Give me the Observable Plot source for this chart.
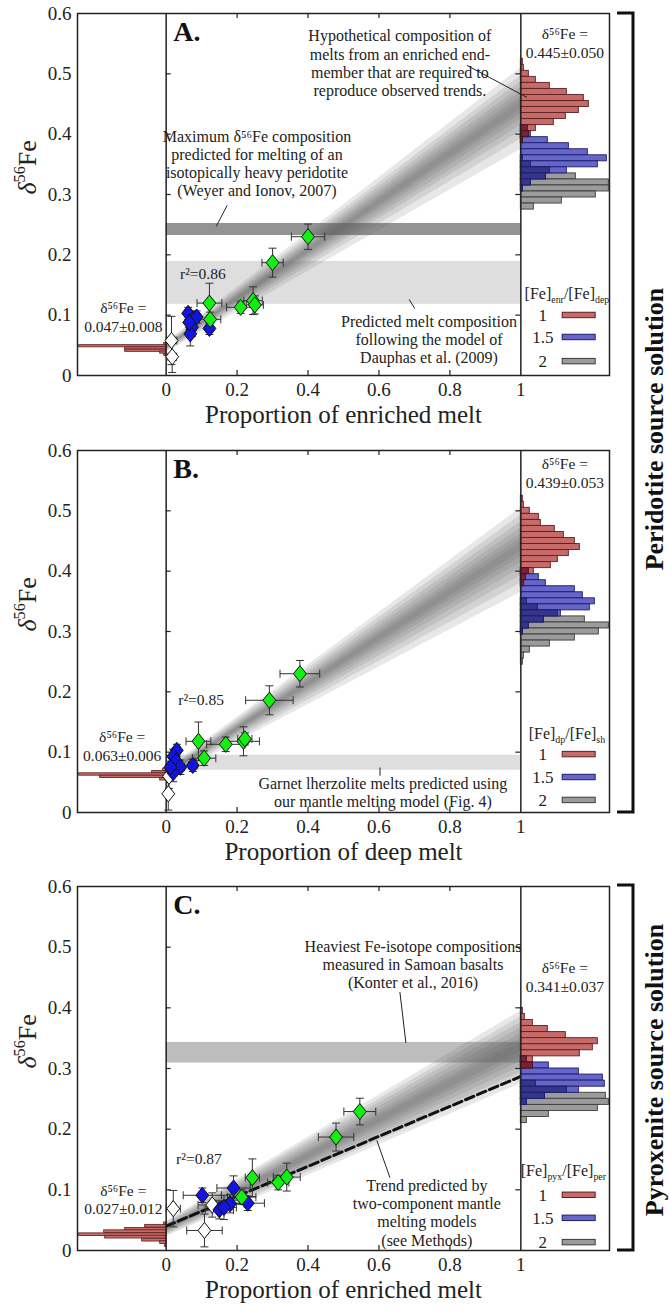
<!DOCTYPE html>
<html><head><meta charset="utf-8">
<script src="https://cdn.jsdelivr.net/npm/d3@7"></script>
<script src="https://cdn.jsdelivr.net/npm/@observablehq/plot@0.6"></script>
<style>
body{margin:0;background:#fff;}
#wrap{position:relative;width:670px;height:1311px;overflow:hidden;}
.panel{position:absolute;left:0;}
#overlay{position:absolute;left:0;top:0;pointer-events:none;}
</style></head><body><div id="wrap"></div>
<script>
// ---------- shared ticks ----------
const yTicks = [0, 0.1, 0.2, 0.3, 0.4, 0.5, 0.6];
const xTicks = [0, 0.2, 0.4, 0.6, 0.8, 1];
const innerYTicks = [0.1, 0.2, 0.3, 0.4, 0.5];
const innerXTicks = [0.2, 0.4, 0.6, 0.8];
const legendLabels = ["1", "1.5", "2"];

// ---------- Panel A ----------
const aGreen = [
  {x:0.40,y:0.230,xe:0.047,ye:0.021},{x:0.30,y:0.187,xe:0.030,ye:0.024},
  {x:0.122,y:0.120,xe:0.035,ye:0.033},{x:0.124,y:0.093,xe:0.030,ye:0.012},
  {x:0.21,y:0.113,xe:0.040,ye:0.010},{x:0.245,y:0.124,xe:0.026,ye:0.023},
  {x:0.25,y:0.117,xe:0.024,ye:0.015}];
const aBlue = [
  {x:0.062,y:0.103,xe:0.010,ye:0.010},{x:0.077,y:0.094,xe:0.010,ye:0.012},
  {x:0.086,y:0.097,xe:0.010,ye:0.010},{x:0.073,y:0.080,xe:0.012,ye:0.015},
  {x:0.068,y:0.069,xe:0.010,ye:0.020},{x:0.065,y:0.088,xe:0.010,ye:0.012},
  {x:0.122,y:0.078,xe:0.010,ye:0.010}];
const aWhite = [{x:0.015,y:0.058,xe:0.015,ye:0.040},{x:0.017,y:0.031,xe:0.012,ye:0.026}];
const aLeftY = [0.052,0.0485,0.045,0.041,0.038,0.034];
const aLeftN = [2,87,41,41,6,2];
const aRedY = [0.52,0.51,0.50,0.49,0.48,0.47,0.46,0.45,0.44,0.43,0.42,0.41,0.40,0.39];
const aRedN = [2,3,8,15,29,46,63,68,58,45,33,15,8,2];
const aBlueY = [0.41,0.40,0.39,0.38,0.37,0.36,0.35,0.34,0.33,0.32,0.31];
const aBlueN = [7,10,27,48,67,86,77,46,25,10,2];
const aGrayY = [0.36,0.35,0.34,0.33,0.32,0.31,0.30,0.29,0.28];
const aGrayN = [2,10,29,55,88,88,75,41,13];
const aFan = [
  [[0.0455,0.0475],[0.440,0.455]],[[0.045,0.048],[0.433,0.462]],[[0.044,0.049],[0.425,0.470]],
  [[0.043,0.050],[0.415,0.478]],[[0.042,0.051],[0.405,0.487]],[[0.040,0.053],[0.392,0.497]],
  [[0.038,0.055],[0.375,0.510]]];

// ---------- Panel B ----------
const bGreen = [
  {x:0.377,y:0.230,xe:0.056,ye:0.022},{x:0.291,y:0.186,xe:0.067,ye:0.024},
  {x:0.091,y:0.118,xe:0.035,ye:0.032},{x:0.168,y:0.113,xe:0.054,ye:0.012},
  {x:0.218,y:0.118,xe:0.045,ye:0.024},{x:0.222,y:0.122,xe:0.020,ye:0.010},
  {x:0.107,y:0.090,xe:0.033,ye:0.012}];
const bBlue = [
  {x:0.030,y:0.103,xe:0.010,ye:0.010},{x:0.020,y:0.093,xe:0.010,ye:0.012},
  {x:0.028,y:0.085,xe:0.010,ye:0.010},{x:0.040,y:0.075,xe:0.012,ye:0.012},
  {x:0.020,y:0.066,xe:0.010,ye:0.015},{x:0.075,y:0.078,xe:0.012,ye:0.010},
  {x:0.012,y:0.075,xe:0.010,ye:0.010}];
const bWhite = [{x:0.006,y:0.031,xe:0.008,ye:0.027},{x:0.008,y:0.060,xe:0.008,ye:0.020}];
const bLeftY = [0.071,0.067,0.063,0.059,0.055];
const bLeftN = [3,14,87,66,6];
const bRedY = [0.52,0.51,0.50,0.49,0.48,0.47,0.46,0.45,0.44,0.43,0.42,0.41,0.40,0.39,0.38];
const bRedN = [2,3,9,18,20,34,43,54,59,48,37,30,13,5,3];
const bBlueY = [0.40,0.39,0.38,0.37,0.36,0.35,0.34,0.33,0.32,0.31,0.30];
const bBlueN = [8,18,25,54,62,74,69,40,23,8,2];
const bGrayY = [0.35,0.34,0.33,0.32,0.31,0.30,0.29,0.28,0.27,0.26,0.25];
const bGrayN = [6,17,37,64,88,78,54,29,9,3,2];
const bFan = [
  [[0.062,0.064],[0.432,0.447]],[[0.0615,0.0645],[0.424,0.455]],[[0.061,0.065],[0.415,0.463]],
  [[0.060,0.066],[0.405,0.472]],[[0.059,0.067],[0.393,0.482]],[[0.057,0.069],[0.380,0.493]],
  [[0.055,0.071],[0.365,0.505]]];

// ---------- Panel C ----------
const cGreen = [
  {x:0.546,y:0.229,xe:0.045,ye:0.022},{x:0.479,y:0.187,xe:0.050,ye:0.023},
  {x:0.243,y:0.120,xe:0.020,ye:0.031},{x:0.316,y:0.112,xe:0.030,ye:0.012},
  {x:0.340,y:0.121,xe:0.038,ye:0.023},{x:0.213,y:0.088,xe:0.040,ye:0.012}];
const cBlue = [
  {x:0.102,y:0.091,xe:0.054,ye:0.012},{x:0.190,y:0.103,xe:0.047,ye:0.020},
  {x:0.230,y:0.078,xe:0.047,ye:0.012},{x:0.180,y:0.077,xe:0.040,ye:0.015},
  {x:0.150,y:0.067,xe:0.040,ye:0.015},{x:0.163,y:0.071,xe:0.035,ye:0.020}];
const cWhite = [{x:0.020,y:0.069,xe:0.020,ye:0.030},{x:0.108,y:0.033,xe:0.050,ye:0.027},{x:0.130,y:0.075,xe:0.040,ye:0.020}];
const cLeftY = [0.044,0.040,0.035,0.031,0.026,0.022,0.017,0.013,0.008];
const cLeftN = [2,21,41,62,87,61,24,6,1];
const cRedY = [0.395,0.385,0.375,0.365,0.355,0.345,0.335,0.325,0.315,0.305];
const cRedN = [2,4,12,27,45,77,72,59,12,12];
const cBlueY = [0.315,0.305,0.295,0.285,0.275,0.265,0.255,0.245];
const cBlueN = [6,28,58,82,84,58,24,6];
const cGrayY = [0.275,0.265,0.255,0.245,0.235,0.225,0.215];
const cGrayN = [15,46,85,88,77,28,6];
const cFan = [
  [[0.033,0.038],[0.327,0.343]],[[0.032,0.039],[0.320,0.350]],[[0.031,0.040],[0.312,0.358]],
  [[0.029,0.042],[0.303,0.367]],[[0.027,0.044],[0.294,0.376]],[[0.025,0.046],[0.285,0.385]],
  [[0.023,0.048],[0.275,0.395]]];
const cTrend = [{x:0, y:0.040}, {x:1, y:0.287}];

// ---------- layout ----------
const FONT = "Liberation Serif";
const W = 670, H = 437;
const XDOM = [-0.25, 1.25], YDOM = [0, 0.6];
const COL = {
  red:"#c66a6a", redS:"#5c1f1f", blue:"#6666c9", blueS:"#1c1c6e",
  gray:"#9b9b9b", grayS:"#3a3a3a", navy:"#35358a", dred:"#7a2238", dredS:"#4a1020"
};
const diamond = {draw(ctx, size){ const r = Math.sqrt(size/Math.PI); const h=r*1.15, w=r*0.92;
  ctx.moveTo(0,-h); ctx.lineTo(w,0); ctx.lineTo(0,h); ctx.lineTo(-w,0); ctx.closePath(); }};

const panels = [
 { top:0, mt:13, mb:62, tag:"A.", xlabel:"Proportion of enriched melt",
   green:aGreen, blue:aBlue, white:aWhite, leftY:aLeftY, leftN:aLeftN, leftH:0.0036,
   redY:aRedY, redN:aRedN, blueY:aBlueY, blueN:aBlueN, grayY:aGrayY, grayN:aGrayN, fan:aFan,
   bands:[{lo:0.232,hi:0.252,fill:"#939393"},{lo:0.118,hi:0.189,fill:"#dedede"}],
   notes:[
     {x:0.659,y:0.518,text:"Hypothetical composition of\nmelts from an enriched end-\nmember that are required to\nreproduce observed trends."},
     {x:0.256,y:0.352,text:"Maximum δ⁵⁶Fe composition\npredicted for melting of an\nisotopically heavy peridotite\n(Weyer and Ionov, 2007)"},
     {x:0.741,y:0.0605,text:"Predicted melt composition\nfollowing the model of\nDauphas et al. (2009)"}],
   pointers:[{x1:0.848,y1:0.514,x2:1.017,y2:0.461},{x1:0.172,y1:0.282,x2:0.141,y2:0.247},{x1:0.685,y1:0.126,x2:0.701,y2:0.111}],
   r2:{x:0.039,y:0.169,text:"r²=0.86"},
   leftLab:{x:-0.121,y:0.098,text:"δ⁵⁶Fe =\n0.047±0.008"},
   rightLab:{x:1.124,y:0.552,text:"δ⁵⁶Fe =\n0.445±0.050"},
   legTitle:{x:1.13,y:0.136,text:"[Fe]_{enr}/[Fe]_{dep}"}, legY:[0.0995,0.063,0.023] },
 { top:437, mt:13, mb:62, tag:"B.", xlabel:"Proportion of deep melt",
   green:bGreen, blue:bBlue, white:bWhite, leftY:bLeftY, leftN:bLeftN, leftH:0.004,
   redY:bRedY, redN:bRedN, blueY:bBlueY, blueN:bBlueN, grayY:bGrayY, grayN:bGrayN, fan:bFan,
   bands:[{lo:0.070,hi:0.095,fill:"#dedede"}],
   notes:[{x:0.611,y:0.034,text:"Garnet lherzolite melts predicted using\nour mantle melting model (Fig. 4)"}],
   pointers:[{x1:0.603,y1:0.0746,x2:0.603,y2:0.061}],
   r2:{x:0.034,y:0.186,text:"r²=0.85"},
   leftLab:{x:-0.124,y:0.111,text:"δ⁵⁶Fe =\n0.063±0.006"},
   rightLab:{x:1.124,y:0.563,text:"δ⁵⁶Fe =\n0.439±0.053"},
   legTitle:{x:1.13,y:0.131,text:"[Fe]_{dp}/[Fe]_{sh}"}, legY:[0.096,0.058,0.02] },
 { top:874, mt:12, mb:61, tag:"C.", xlabel:"Proportion of enriched melt",
   green:cGreen, blue:cBlue, white:cWhite, leftY:cLeftY, leftN:cLeftN, leftH:0.0045,
   redY:cRedY, redN:cRedN, blueY:cBlueY, blueN:cBlueN, grayY:cGrayY, grayN:cGrayN, fan:cFan,
   trend:cTrend,
   bands:[{lo:0.309,hi:0.343,fill:"#bdbdbd"}],
   notes:[
     {x:0.696,y:0.472,text:"Heaviest Fe-isotope compositions\nmeasured in Samoan basalts\n(Konter et al., 2016)"},
     {x:0.735,y:0.0627,text:"Trend predicted by\ntwo-component mantle\nmelting models\n(see Methods)"}],
   pointers:[{x1:0.659,y1:0.426,x2:0.676,y2:0.342},{x1:0.631,y1:0.12,x2:0.594,y2:0.1815}],
   r2:{x:0.028,y:0.150,text:"r²=0.87"},
   leftLab:{x:-0.121,y:0.085,text:"δ⁵⁶Fe =\n0.027±0.012"},
   rightLab:{x:1.124,y:0.452,text:"δ⁵⁶Fe =\n0.341±0.037"},
   legTitle:{x:1.12,y:0.132,text:"[Fe]_{pyx}/[Fe]_{per}"}, legY:[0.091,0.053,0.013] }
];

function zip(ys, ns){ return ys.map((y,i)=>({y, n:ns[i]})); }
function overlap(a, b){ return a.map(d=>{ const m=b.find(e=>Math.abs(e.y-d.y)<1e-6); return m?{y:d.y,n:Math.min(d.n,m.n)}:null; }).filter(Boolean); }

function makePanel(p){
  const mL=77, mR=61;
  const innerW = W-mL-mR, innerH = H-p.mt-p.mb;
  const px = (XDOM[1]-XDOM[0])/innerW, py = (YDOM[1]-YDOM[0])/innerH;
  const red=zip(p.redY,p.redN), blue=zip(p.blueY,p.blueN), gray=zip(p.grayY,p.grayN), left=zip(p.leftY,p.leftN);
  const hb=0.005;
  const histR=(data,fill,stroke)=>Plot.rect(data,{x1:1,x2:d=>1+d.n*px,y1:d=>d.y-hb,y2:d=>d.y+hb,fill,stroke,strokeWidth:0.9});
  const cx=4*px, cy=4*py;
  const errMarks=(pts)=>[
    Plot.link(pts,{x1:"x",x2:"x",y1:d=>d.y-d.ye,y2:d=>d.y+d.ye,stroke:"#333",strokeWidth:1}),
    Plot.link(pts,{x1:d=>d.x-d.xe,x2:d=>d.x+d.xe,y1:"y",y2:"y",stroke:"#333",strokeWidth:1}),
    Plot.link(pts.flatMap(d=>[d.y-d.ye,d.y+d.ye].map(v=>({x:d.x,v}))),{x1:d=>d.x-cx,x2:d=>d.x+cx,y1:"v",y2:"v",stroke:"#333",strokeWidth:1}),
    Plot.link(pts.flatMap(d=>[d.x-d.xe,d.x+d.xe].map(v=>({y:d.y,v}))),{x1:"v",x2:"v",y1:d=>d.y-cy,y2:d=>d.y+cy,stroke:"#333",strokeWidth:1})
  ];
  const T = (data, opts) => Plot.text(data, {fontFamily:FONT, fill:"#222", ...opts});
  const marks=[];
  for(const b of p.bands) marks.push(Plot.rect([b],{x1:0,x2:1,y1:"lo",y2:"hi",fill:b.fill}));
  for(const lv of p.fan){
    marks.push(Plot.area([{x:0,lo:lv[0][0],hi:lv[0][1]},{x:1,lo:lv[1][0],hi:lv[1][1]}],{x1:"x",y1:"lo",y2:"hi",fill:"#606060",fillOpacity:0.15}));
  }
  if(p.trend) marks.push(Plot.line(p.trend,{x:"x",y:"y",stroke:"#111",strokeWidth:3,strokeDasharray:"9,4"}));
  marks.push(Plot.rect(left,{x1:0,x2:d=>-d.n*px,y1:d=>d.y-p.leftH/2,y2:d=>d.y+p.leftH/2,fill:COL.red,stroke:COL.redS,strokeWidth:0.8}));
  marks.push(histR(gray,COL.gray,COL.grayS));
  marks.push(histR(blue,COL.blue,COL.blueS));
  marks.push(histR(red,COL.red,COL.redS));
  marks.push(histR(overlap(blue,gray),COL.navy,COL.blueS));
  marks.push(histR(overlap(red,blue),COL.dred,COL.dredS));
  marks.push(Plot.frame({stroke:"#222",strokeWidth:1.5}));
  marks.push(Plot.ruleX([0,1],{stroke:"#222",strokeWidth:1.5}));
  marks.push(Plot.ruleY(innerYTicks,{y:d=>d,x1:0,x2:5*px,stroke:"#222",strokeWidth:1.2}));
  marks.push(Plot.ruleY(innerYTicks,{y:d=>d,x1:1-5*px,x2:1,stroke:"#222",strokeWidth:1.2}));
  marks.push(Plot.ruleX(innerXTicks,{x:d=>d,y1:0.6-5*py,y2:0.6,stroke:"#222",strokeWidth:1.2}));
  marks.push(Plot.ruleX(innerXTicks,{x:d=>d,y1:0,y2:5*py,stroke:"#222",strokeWidth:1.2}));
  marks.push(Plot.link(p.pointers,{x1:"x1",y1:"y1",x2:"x2",y2:"y2",stroke:"#222",strokeWidth:1}));
  marks.push(...errMarks(p.white), ...errMarks(p.blue), ...errMarks(p.green));
  marks.push(Plot.dot(p.white,{x:"x",y:"y",symbol:diamond,r:7,fill:"#fff",stroke:"#111",strokeWidth:1}));
  marks.push(Plot.dot(p.blue,{x:"x",y:"y",symbol:diamond,r:7,fill:"#1414e0",stroke:"#111",strokeWidth:1}));
  marks.push(Plot.dot(p.green,{x:"x",y:"y",symbol:diamond,r:7,fill:"#12f012",stroke:"#111",strokeWidth:1}));
  marks.push(T(yTicks,{y:d=>d,frameAnchor:"left",dx:-6,textAnchor:"end",text:d=>String(d),fontSize:19}));
  marks.push(T(xTicks,{x:d=>d,frameAnchor:"bottom",dy:20,text:d=>String(d),fontSize:19}));
  marks.push(T([p.xlabel],{frameAnchor:"bottom",dy:47,text:d=>d,fontSize:25}));
  marks.push(T(["{i:δ}^{56}Fe"],{frameAnchor:"left",dx:-50,rotate:-90,text:d=>d,fontSize:26}));
  marks.push(T([p.tag],{x:0.02,y:0.57,text:d=>d,textAnchor:"start",fontSize:28,fontWeight:"bold",fill:"#111"}));
  marks.push(T(p.notes,{x:"x",y:"y",text:"text",fontSize:16,lineHeight:1.14}));
  marks.push(T([p.r2],{x:"x",y:"y",text:"text",textAnchor:"start",fontSize:15.5}));
  marks.push(T([p.leftLab,p.rightLab],{x:"x",y:"y",text:"text",fontSize:15.5,lineHeight:1.22}));
  marks.push(T([p.legTitle],{x:"x",y:"y",text:"text",fontSize:16}));
  const leg = legendLabels.map((t,i)=>({t,y:p.legY[i],fill:[COL.red,COL.blue,COL.gray][i],stroke:[COL.redS,COL.blueS,COL.grayS][i]}));
  marks.push(T(leg,{x:1.062,y:"y",text:"t",fontSize:17}));
  leg.forEach(l=>marks.push(Plot.rect([l],{x1:1.118,x2:1.211,y1:d=>d.y-0.0045,y2:d=>d.y+0.0045,fill:l.fill,stroke:l.stroke,strokeWidth:1})));

  return Plot.plot({
    width:W,height:H,marginLeft:mL,marginRight:mR,marginTop:p.mt,marginBottom:p.mb,
    x:{domain:XDOM,axis:null}, y:{domain:YDOM,axis:null},
    style:{fontFamily:FONT,background:"white",color:"#222",overflow:"visible"},
    marks
  });
}

function richify(svg){
  svg.querySelectorAll("text").forEach(el=>{
    if(el.querySelector("tspan")) return;
    const s = el.textContent;
    if(!/[_^]\{|\{i:/.test(s)) return;
    const fs = parseFloat(getComputedStyle(el).fontSize)||16;
    el.textContent="";
    const parts = s.split(/(_\{[^}]*\}|\^\{[^}]*\}|\{i:[^}]*\})/).filter(x=>x);
    let shift=0;
    for(const part of parts){
      let txt=part, off=0, small=false, ital=false;
      if(part.startsWith("_{")){txt=part.slice(2,-1);off=0.28*fs;small=true;}
      else if(part.startsWith("^{")){txt=part.slice(2,-1);off=-0.4*fs;small=true;}
      else if(part.startsWith("{i:")){txt=part.slice(3,-1);ital=true;}
      const t=document.createElementNS("http://www.w3.org/2000/svg","tspan");
      t.textContent=txt;
      if(off!==shift) t.setAttribute("dy",off-shift);
      shift=off;
      if(small) t.setAttribute("font-size",fs*0.62);
      if(ital) t.setAttribute("font-style","italic");
      el.appendChild(t);
    }
  });
}

const wrap = document.getElementById("wrap");
for(const p of panels){
  const div=document.createElement("div");
  div.className="panel"; div.style.top=p.top+"px";
  const svg=makePanel(p);
  div.appendChild(svg); wrap.appendChild(div);
  richify(svg);
}

const ov = d3.create("svg").attr("id","overlay").attr("width",670).attr("height",1311);
const brackets = [{y1:13,y2:812,label:"Peridotite source solution",cy:429},{y1:885,y2:1250,label:"Pyroxenite source solution",cy:1070}];
for(const b of brackets){
  ov.append("path").attr("d",`M617,${b.y1}H633V${b.y2}H617`).attr("fill","none").attr("stroke","#111").attr("stroke-width",3);
  ov.append("text").attr("transform",`translate(657,${b.cy}) rotate(-90)`).attr("text-anchor","middle")
    .attr("dominant-baseline","middle").attr("font-family",FONT).attr("font-weight","bold").attr("font-size",26).attr("fill","#111").text(b.label);
}
wrap.appendChild(ov.node());
</script></body></html>
